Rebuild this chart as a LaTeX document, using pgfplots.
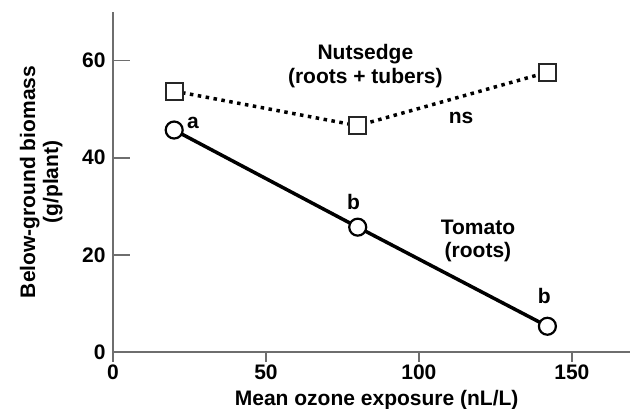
\documentclass[border=0pt]{standalone}
\usepackage{fontspec}
\setmainfont{Liberation Sans}
\usepackage{pgfplots}
\pgfplotsset{compat=1.18}
\definecolor{axgray}{HTML}{6E6E6E}
\begin{document}
\begin{tikzpicture}
\path[use as bounding box] (-113pt,-57pt) rectangle (517pt,352pt);
\begin{axis}[
  at={(0,0)}, anchor=south west,
  scale only axis, width=517pt, height=340pt,
  xmin=0, xmax=169, ymin=0, ymax=70,
  axis lines=left,
  axis line style={-, draw=axgray, line width=2pt},
  xtick={0,50,100,150}, ytick={0,20,40,60},
  tick align=inside,
  major tick length=17pt,
  xtick style={draw=axgray, line width=1.6pt, /pgfplots/major tick length=10pt, yshift=-10pt},
  ytick style={draw=axgray, line width=1.6pt, /pgfplots/major tick length=17pt},
  /pgf/number format/assume math mode=true,
  tick label style={font=\fontsize{21}{23}\selectfont\bfseries},
  xticklabel style={yshift=-9pt},
  yticklabel style={xshift=-4pt},
  label style={font=\fontsize{21}{23}\selectfont\bfseries},
  xlabel={Mean ozone exposure (nL/L)},
  xlabel style={at={(axis description cs:0.51,-0.141)}, anchor=center},
  ylabel={Below-ground biomass\\(g/plant)},
  ylabel style={at={(axis description cs:-0.139,0.5)}, anchor=center, align=center},
  clip=false,
]
\addplot[black, line width=3.5pt, dash pattern=on 3.5pt off 4.5pt,
  mark=square*, mark size=8.5pt,
  mark options={solid, fill=white, draw=black!85, line width=2.2pt}]
  coordinates {(20,53.7) (80,46.6) (142,57.6)};
\addplot[black, line width=3.5pt,
  mark=*, mark size=8.5pt,
  mark options={fill=white, draw=black, line width=2.2pt}]
  coordinates {(20,45.7) (80,25.7) (142,5.3)};
\draw[axgray, line width=2pt] (axis cs:0,0) -- (axis cs:0,-2.1);
\begin{scope}[every node/.style={font=\fontsize{21}{23}\selectfont\bfseries, anchor=base}]
\node at (axis cs:26.1,46.0) {a};
\node at (axis cs:78.6,29.4) {b};
\node at (axis cs:141,9.9) {b};
\node at (axis cs:113.8,47.0) {ns};
\node at (axis cs:82.5,60.3) {Nutsedge};
\node at (axis cs:82.5,55.2) {(roots + tubers)};
\node at (axis cs:119.3,24.2) {Tomato};
\node at (axis cs:119.3,19.5) {(roots)};
\end{scope}
\end{axis}
\end{tikzpicture}
\end{document}
